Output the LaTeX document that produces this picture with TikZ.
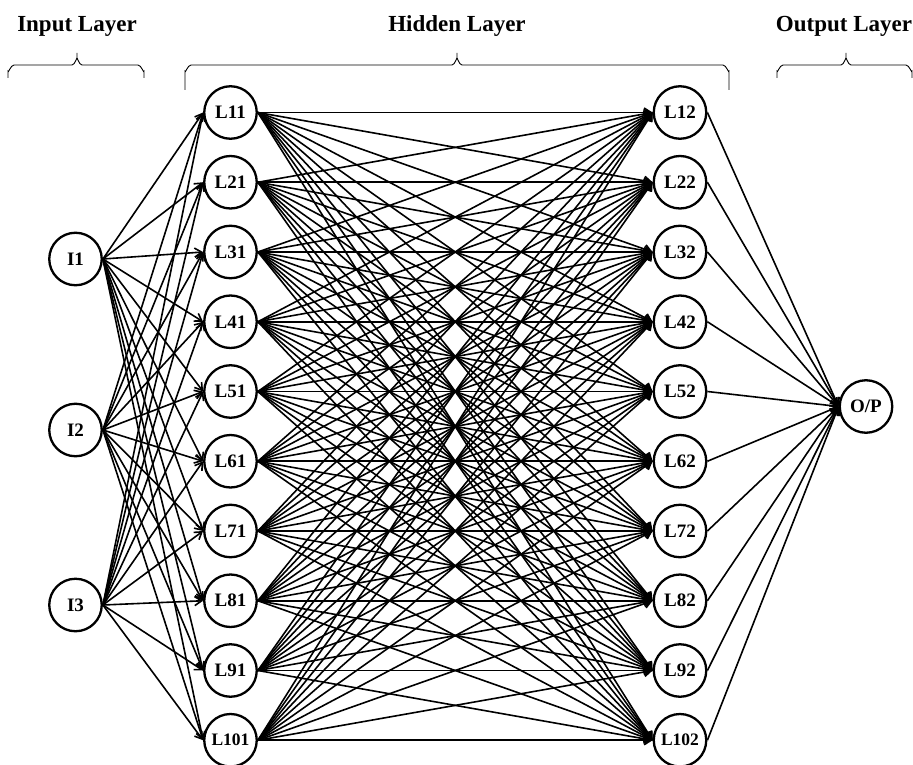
\documentclass[tikz,border=0pt]{standalone}
\usepackage{fontspec}
\setmainfont{Liberation Serif}
\usetikzlibrary{arrows.meta}
\begin{document}
\begin{tikzpicture}[x=1pt,y=-1pt,
  neuron/.style={circle, draw, line width=2.3pt, minimum size=52.5pt, inner sep=0pt,
    fill=white, font=\fontsize{19}{19}\selectfont\bfseries},
  small/.style={font=\fontsize{17.5}{17.5}\selectfont\bfseries},
  link/.style={line width=1.6pt, -{Straight Barb[length=7pt,width=9pt,line width=1.6pt]}},
  brace/.style={line width=0.9pt},
  heading/.style={font=\fontsize{23}{23}\selectfont\bfseries, anchor=base}]
\useasboundingbox (0,0) rectangle (913,765);

% headings
\node[heading] (tin)  at (77,32)  {Input Layer};
\node[heading] (thid) at (457,32) {Hidden Layer};
\node[heading] (tout) at (844,32) {Output Layer};

% braces: ends at x1/x2, middle tip at xm, ends reaching down to ye
\foreach \xa/\xm/\xb/\ye in {8/77/144/78, 185/457/729/90, 777/846/912/78}{
  \draw[brace] (\xa,\ye) -- (\xa,71) to[out=-90,in=180] (\xa+6,65) -- (\xm-5,65)
    to[out=0,in=90] (\xm,59) -- (\xm,53);
  \draw[brace] (\xb,\ye) -- (\xb,71) to[out=-90,in=0] (\xb-6,65) -- (\xm+5,65)
    to[out=180,in=90] (\xm,59);
}

% input layer
\node[neuron] (i1) at (75.5,259) {I1};
\node[neuron] (i2) at (75.5,430) {I2};
\node[neuron] (i3) at (75.5,605) {I3};

% hidden layers
\foreach \i in {1,...,9}{
  \node[neuron] (h\i) at (230.5,{112.5+69.75*(\i-1)}) {L\i1};
  \node[neuron] (g\i) at (680,{112.5+69.75*(\i-1)}) {L\i2};
}
\node[neuron,small] (h10) at (230.5,740.25) {L101};
\node[neuron,small] (g10) at (680,740.25) {L102};

% output
\node[neuron] (o) at (866,406.5) {O/P};

% connections
\foreach \a in {1,2,3}
  \foreach \b in {1,...,10}
    \draw[link] (i\a.east) -- (h\b.west);
\foreach \a in {1,...,10}
  \foreach \b in {1,...,10}
    \draw[link] (h\a.east) -- (g\b.west);
\foreach \a in {1,...,10}
  \draw[link] (g\a.east) -- (o.west);
\end{tikzpicture}
\end{document}
